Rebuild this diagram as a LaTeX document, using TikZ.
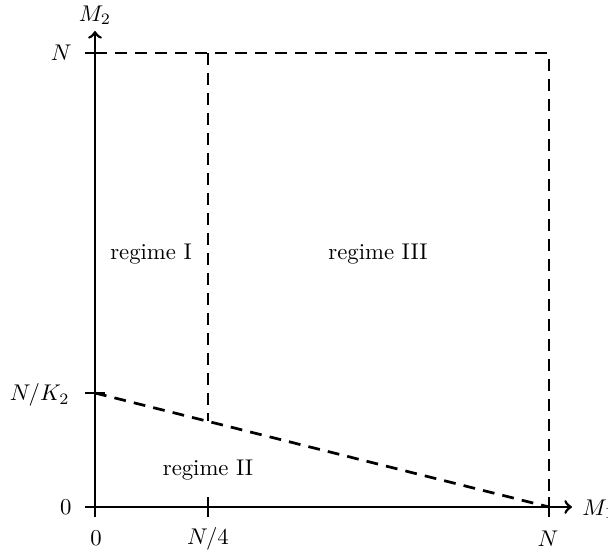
\documentclass[tikz,border=0pt]{standalone}
\begin{document}
\begin{tikzpicture}[x=0.44pt,y=-0.44pt,
  axis/.style={line width=1.2pt,->},
  dline/.style={line width=1.2pt,dash pattern=on 5.2pt off 3.6pt},
  tick/.style={line width=1.2pt},
  lbl/.style={inner sep=0pt}]
\useasboundingbox (0,0) rectangle (608,552);
\coordinate (O) at (95,507);
\coordinate (Xend) at (572,507);
\coordinate (Yend) at (95,31);
\coordinate (NK) at (95,393);
\coordinate (NY) at (95,53);
\coordinate (NX) at (549,507);
\coordinate (Q) at (208,507);
\coordinate (TopQ) at (208,53);
\coordinate (TopN) at (549,53);
\coordinate (Mid) at (208,421.5);
% axes
\draw[axis] (O) -- (Xend);
\draw[axis] (O) -- (Yend);
% ticks
\draw[tick] ([xshift=-4.4pt]NY) -- ([xshift=4.4pt]NY);
\draw[tick] ([xshift=-4.4pt]NK) -- ([xshift=4.4pt]NK);
\draw[tick] ([xshift=-4.4pt]O) -- (O);
\draw[tick] ([yshift=-4.4pt]O) -- (O);
\draw[tick] ([yshift=-4.4pt]Q) -- ([yshift=4.4pt]Q);
\draw[tick] ([yshift=-4.4pt]NX) -- ([yshift=4.4pt]NX);
% dashed lines
\draw[dline] (NY) -- (TopN) -- (NX);
\draw[dline] (TopQ) -- (Mid);
\draw[dline] (NK) -- (NX);
% labels
\node[lbl] (m2) at (95,15) {$M_2$};
\node[lbl,anchor=west] (m1) at (582,509) {$M_1$};
\node[lbl,anchor=east] (ly1) at (72,53) {$N$};
\node[lbl,anchor=east] (ly2) at (70,395) {$N/K_2$};
\node[lbl,anchor=east] (ly0) at (72,507) {$0$};
\node[lbl] (lx0) at (96,538) {$0$};
\node[lbl] (lx1) at (208,539) {$N/4$};
\node[lbl] (lx2) at (548,539) {$N$};
\node (r1) at (151,254) {regime I};
\node (r3) at (378,254) {regime III};
\node (r2) at (208,470) {regime II};
\end{tikzpicture}
\end{document}
